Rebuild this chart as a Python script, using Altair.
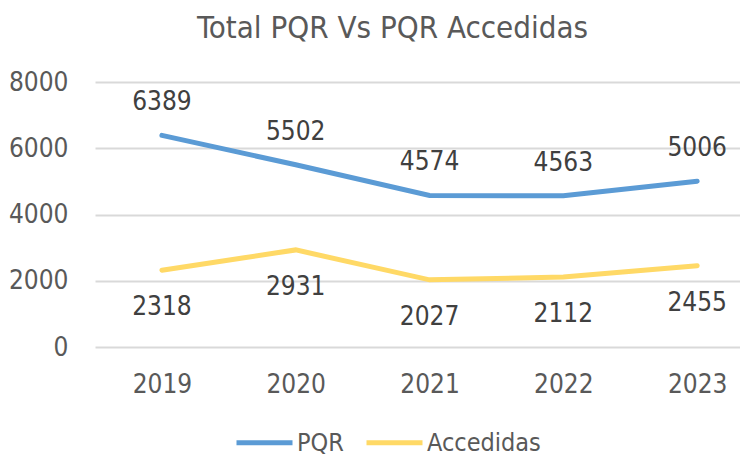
import altair as alt
import pandas as pd

years = [2019, 2020, 2021, 2022, 2023]
pqr = [6389, 5502, 4574, 4563, 5006]
accedidas = [2318, 2931, 2027, 2112, 2455]
series_names = ["PQR", "Accedidas"]
colors = ["#5B9BD5", "#FFD966"]

rows = []
for y, v in zip(years, pqr):
    rows.append({"year": y, "value": v, "serie": "PQR"})
for y, v in zip(years, accedidas):
    rows.append({"year": y, "value": v, "serie": "Accedidas"})
df = pd.DataFrame(rows)

FONT = "DejaVu Sans Condensed, Roboto, sans-serif"
TXT = "#595959"
FS = 26

x = alt.X("year:Q",
          scale=alt.Scale(domain=[2018.5, 2023.32], nice=False, zero=False),
          axis=alt.Axis(values=years, format="d", title=None, grid=False,
                        domain=False, ticks=False, labelFontSize=FS,
                        labelColor=TXT, labelFont=FONT, labelPadding=24))
y = alt.Y("value:Q",
          scale=alt.Scale(domain=[0, 8000], nice=False),
          axis=alt.Axis(values=[0, 2000, 4000, 6000, 8000], format="d", title=None,
                        domain=False, ticks=False, labelFontSize=FS,
                        labelColor=TXT, labelFont=FONT, labelPadding=27,
                        gridColor="#D9D9D9", gridWidth=2))
color = alt.Color("serie:N",
                  scale=alt.Scale(domain=series_names, range=colors),
                  legend=alt.Legend(title=None, orient="none", direction="horizontal",
                                    legendX=153, legendY=344,
                                    symbolType="M-2,0H2", symbolStrokeWidth=5,
                                    symbolSize=784, labelFontSize=25, labelOffset=16,
                                    labelColor=TXT, labelFont=FONT,
                                    columnPadding=12))

lines = alt.Chart(df).mark_line(strokeWidth=5, strokeCap="round").encode(
    x=x, y=y, color=color)

top_labels = alt.Chart(df).transform_filter(alt.datum.serie == "PQR").mark_text(
    fontSize=FS, font=FONT, color="#404040", dy=-33).encode(
    x="year:Q", y="value:Q", text="value:Q")
bottom_labels = alt.Chart(df).transform_filter(alt.datum.serie == "Accedidas").mark_text(
    fontSize=FS, font=FONT, color="#404040", dy=37).encode(
    x="year:Q", y="value:Q", text="value:Q")

chart = alt.layer(lines, top_labels, bottom_labels).properties(
    width=645, height=265,
    title=alt.TitleParams("Total PQR Vs PQR Accedidas", fontSize=31, font=FONT,
                          color=TXT, fontWeight="normal", anchor="middle",
                          offset=24, dx=-25),
    padding={"left": 0, "top": 5, "right": 0, "bottom": 0},
).configure_view(stroke=None)

chart.save("out.html", embed_options={"renderer": "svg", "actions": False})
